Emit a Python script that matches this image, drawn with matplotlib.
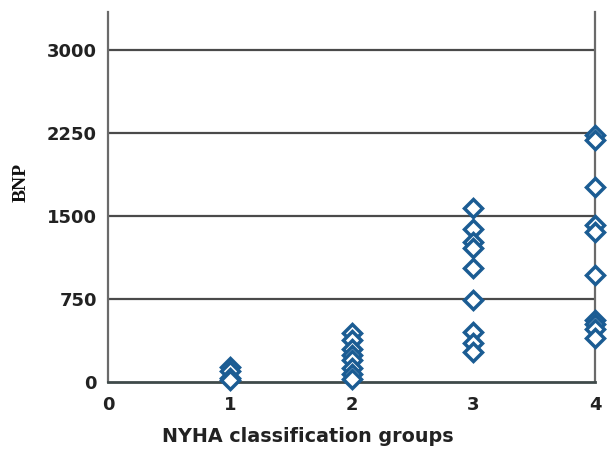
import matplotlib
matplotlib.use("Agg")
import matplotlib.pyplot as plt

groups = [1, 2, 3, 4]
bnp_g1 = [140, 100, 40, 20]
bnp_g2 = [440, 380, 300, 240, 200, 130, 70, 30]
bnp_g3 = [1570, 1380, 1265, 1210, 1030, 740, 450, 350, 270]
bnp_g4 = [2230, 2190, 1760, 1420, 1355, 965, 560, 520, 480, 400]
y_ticks = [0, 750, 1500, 2250, 3000]
x_ticks = [0, 1, 2, 3, 4]

fig = plt.figure(figsize=(6.08, 4.49), dpi=100)
ax = fig.add_axes([108/608, 1-382/449, (595-108)/608, (382-12)/449])

color = "#1b5c93"
for g, vals in zip(groups, [bnp_g1, bnp_g2, bnp_g3, bnp_g4]):
    ax.plot([g]*len(vals), vals, linestyle="none", marker="D", ms=9.5,
            mfc="white", mec=color, mew=2.5, clip_on=False, zorder=3)

ax.set_xlim(0, 4)
ax.set_ylim(0, 3343)
ax.set_yticks(y_ticks)
ax.set_xticks(x_ticks)
ax.set_yticklabels([str(v) for v in y_ticks], fontsize=13, fontweight="bold", color="#222222")
ax.set_xticklabels([str(v) for v in x_ticks], fontsize=13, fontweight="bold", color="#222222")
ax.tick_params(axis="both", length=0)
ax.tick_params(axis="y", pad=8)
ax.tick_params(axis="x", pad=10)

for v in y_ticks[1:]:
    ax.axhline(v, color="#4a4a4a", lw=1.6, zorder=1)

ax.spines["top"].set_visible(False)
ax.spines["left"].set_color("#6a6a6a")
ax.spines["left"].set_linewidth(1.6)
ax.spines["right"].set_color("#6a6a6a")
ax.spines["right"].set_linewidth(1.6)
ax.spines["bottom"].set_color("#3f4a4a")
ax.spines["bottom"].set_linewidth(2.0)

fig.text(308/608, 1-437/449, "NYHA classification groups", fontsize=13.8,
         fontweight="bold", color="#222222", ha="center", va="center")
fig.text(21/608, 1-183/449, "BNP", rotation=90, fontsize=14, fontweight="bold",
         family="Liberation Serif", ha="center", va="center", color="#111111")

fig.savefig("out.png", dpi=100)
